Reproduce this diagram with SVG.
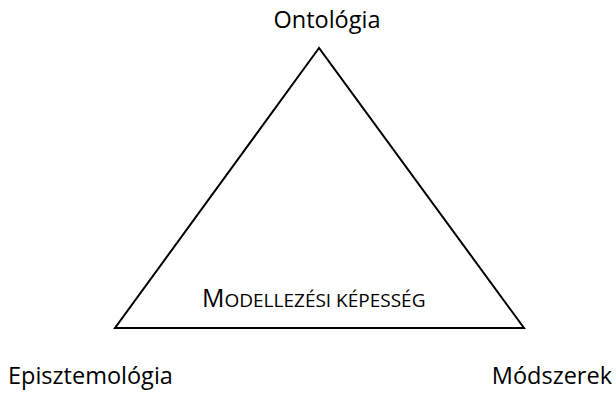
<svg xmlns="http://www.w3.org/2000/svg" width="616" height="399" viewBox="0 0 616 399">
<style>
text{font-family:"Open Sans","DejaVu Sans",sans-serif;fill:#000}
.lbl{font-size:23.5px}
.tri{fill:none;stroke:#000;stroke-width:2;stroke-linejoin:miter}
</style>
<rect width="616" height="399" fill="#fff"/>
<g id="connectors">
<polygon class="tri" points="319,48 115,328 524,328"/>
</g>
<g id="ontologia"><text class="lbl" x="327" y="28" text-anchor="middle">Ontológia</text></g>
<g id="episztemologia"><text class="lbl" x="8" y="384">Episztemológia</text></g>
<g id="modszerek"><text class="lbl" x="612" y="384" text-anchor="end">Módszerek</text></g>
<g id="center"><text x="202" y="307" font-size="25">M<tspan font-size="19">ODELLEZÉSI KÉPESSÉG</tspan></text></g>
</svg>
